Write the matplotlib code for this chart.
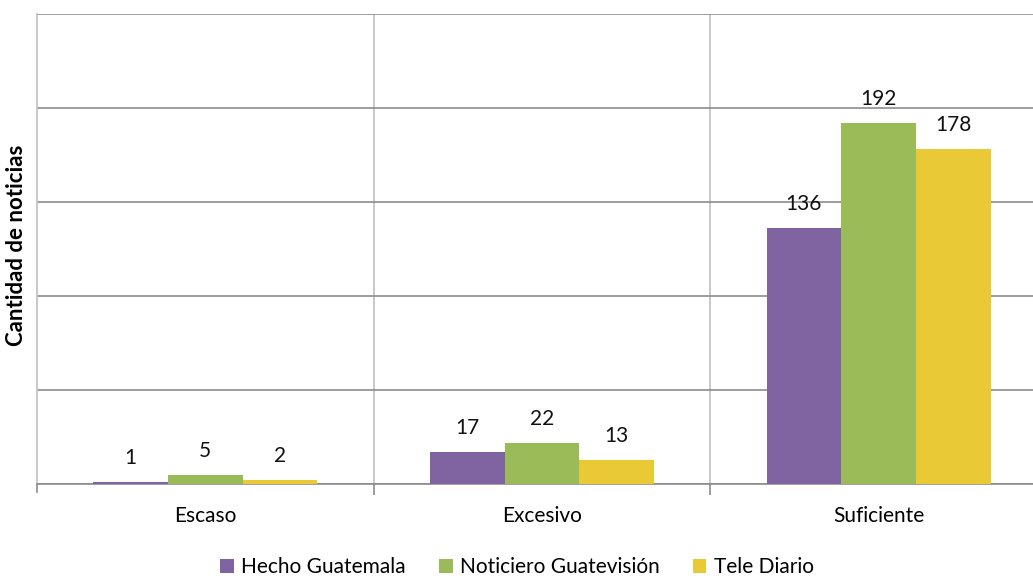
import numpy as np
import matplotlib
matplotlib.use('Agg')
import matplotlib.pyplot as plt

categories = ['Escaso', 'Excesivo', 'Suficiente']
series_names = ['Hecho Guatemala', 'Noticiero Guatevisión', 'Tele Diario']
hecho = [1, 17, 136]
noticiero = [5, 22, 192]
tele = [2, 13, 178]
colors = ['#8064A2', '#9BBB59', '#EAC936']

plt.rcParams['font.family'] = ['Lato', 'DejaVu Sans']

fig = plt.figure(figsize=(10.33, 5.79), dpi=100)
W, H = 1033, 579
# axes spans past the right edge, like the clipped original layout
ax = fig.add_axes([37 / W, 1 - 484 / H, 1010 / W, 470 / H])

x = np.arange(len(categories))
bw = 0.222
for i, (vals, name) in enumerate(zip([hecho, noticiero, tele], series_names)):
    pos = x + (i - 1) * bw
    bars = ax.bar(pos, vals, width=bw, color=colors[i], label=name, zorder=3)
    for b, v in zip(bars, vals):
        ax.annotate(str(v), (b.get_x() + b.get_width() / 2, v),
                    xytext=(0, 13), textcoords='offset points',
                    ha='center', va='baseline', fontsize=15, color='#111111')

ax.set_xlim(-0.5, 2.5)
ax.set_ylim(0, 250)
ax.set_yticks([0, 50, 100, 150, 200, 250])
ax.set_yticklabels([])
ax.tick_params(axis='y', length=0)
ax.yaxis.grid(True, color='#8c8c8c', linewidth=1.2, zorder=0)

# category boundaries: grid lines and ticks
ax.set_xticks([0.5, 1.5], minor=True)
ax.set_xticks(x)
ax.set_xticklabels(categories, fontsize=15)
ax.tick_params(axis='x', which='major', length=0, pad=16)
ax.tick_params(axis='x', which='minor', length=8, color='#8c8c8c', width=1.2)
ax.xaxis.grid(True, which='minor', color='#c0c0c0', linewidth=1.2, zorder=0)
ax.plot([-0.5, -0.5], [0, -0.017 * 250], color='#8c8c8c', lw=1.2,
        clip_on=False, transform=ax.transData)

for s in ['top', 'right']:
    ax.spines[s].set_visible(False)
ax.spines['left'].set_color('#c0c0c0')
ax.spines['left'].set_linewidth(1.2)
ax.spines['bottom'].set_color('#8c8c8c')
ax.spines['bottom'].set_linewidth(1.2)

fig.text(17 / W, 1 - 245 / H, 'Cantidad de noticias', rotation=90,
         ha='center', va='center', fontsize=16, fontweight='bold')

handles, labels = ax.get_legend_handles_labels()
fig.legend(handles, labels, loc='center', bbox_to_anchor=(517 / W, 1 - 567 / H),
           ncol=3, frameon=False, fontsize=15, handlelength=0.65,
           handleheight=0.65, handletextpad=0.35, columnspacing=1.6)

fig.savefig('out.png', dpi=100, facecolor='white')
